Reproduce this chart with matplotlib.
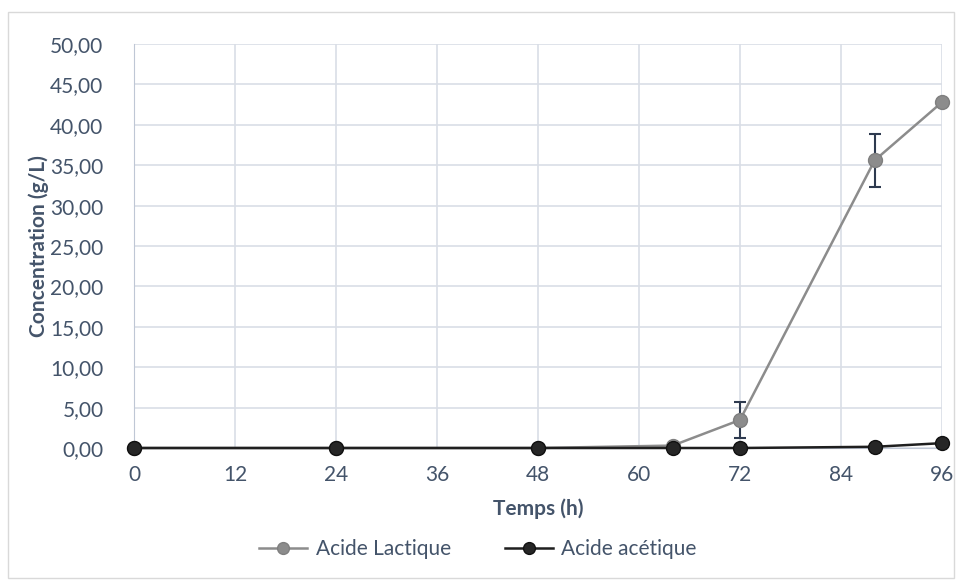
import matplotlib
matplotlib.use("Agg")
import matplotlib.pyplot as plt
from matplotlib.patches import Rectangle

time_h = [0, 24, 48, 64, 72, 88, 96]
lactic = [0.0, 0.0, 0.0, 0.3, 3.47, 35.6, 42.8]
lactic_err = [0, 0, 0, 0, 2.2, 3.25, 0]
acetic = [0.0, 0.0, 0.0, 0.0, 0.0, 0.15, 0.6]
xticks = [0, 12, 24, 36, 48, 60, 72, 84, 96]
yticks = [0, 5, 10, 15, 20, 25, 30, 35, 40, 45, 50]

txt = "#44546A"
plt.rcParams['font.family'] = ['Lato', 'DejaVu Sans']
fs = 15

fig = plt.figure(figsize=(9.56, 5.8), dpi=100)
fig.patches.append(Rectangle((8/956, 1-578/580), 946/956, 566/580, transform=fig.transFigure,
                             fill=False, edgecolor="#D9D9D9", linewidth=1))
ax = fig.add_axes([134/956, 1-448/580, (942-134)/956, (448-44)/580])

ax.errorbar(time_h, lactic, yerr=lactic_err, fmt='none', ecolor="#2E3A4F", elinewidth=1.5,
            capsize=4, capthick=1.5, zorder=3)
ax.plot(time_h, lactic, color="#8C8C8C", linewidth=1.8, marker='o', markersize=10,
        markerfacecolor="#8C8C8C", markeredgecolor="#7F7F7F", label="Acide Lactique", zorder=4, clip_on=False)
ax.plot(time_h, acetic, color="#1F1F1F", linewidth=1.8, marker='o', markersize=10,
        markerfacecolor="#262626", markeredgecolor="#111111", label="Acide acétique", zorder=5, clip_on=False)

ax.set_xlim(0, 96)
ax.set_ylim(0, 50)
ax.set_xticks(xticks)
ax.set_yticks(yticks)
ax.set_yticklabels([f"{v:.2f}".replace('.', ',') for v in yticks])
ax.grid(True, color="#D9DEE6", linewidth=1.2)
ax.set_axisbelow(True)
for s in ['top', 'right']:
    ax.spines[s].set_visible(False)
ax.spines['left'].set_color("#BFC7D5")
ax.spines['bottom'].set_color("#BFC7D5")
ax.tick_params(length=0, labelsize=fs, colors=txt, pad=12)
ax.tick_params(axis='y', pad=22)

ax.set_xlabel("Temps (h)", fontsize=fs, fontweight='bold', color=txt, labelpad=10)
ax.set_ylabel("Concentration (g/L)", fontsize=fs, fontweight='bold', color=txt, labelpad=1)

leg = fig.legend(loc='center', bbox_to_anchor=(0.5, 1-549/580), ncol=2, frameon=False,
                 fontsize=fs, handlelength=2.3, columnspacing=2.6, handletextpad=0.4, markerscale=0.85)
for t in leg.get_texts():
    t.set_color(txt)

fig.savefig("out.png", dpi=100)
